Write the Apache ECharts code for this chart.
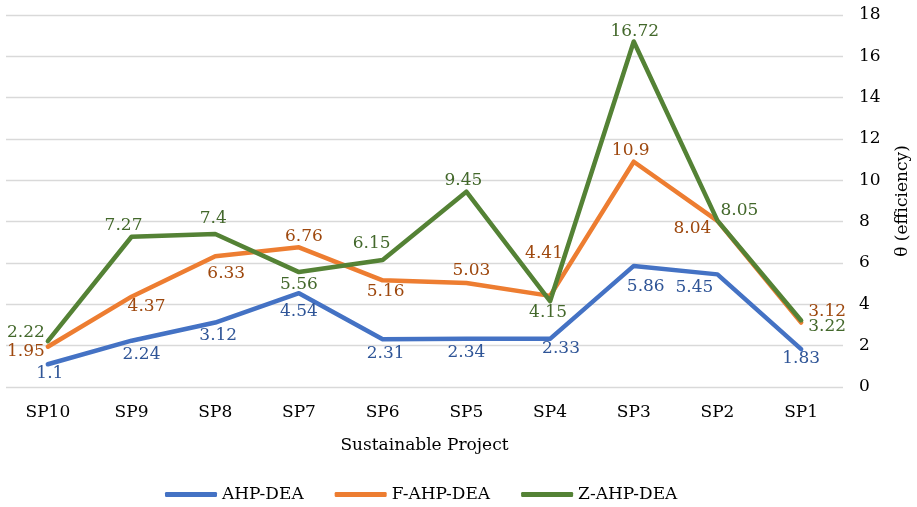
<!DOCTYPE html>
<html>
<head>
<meta charset="utf-8">
<script src="https://cdn.jsdelivr.net/npm/echarts@6/dist/echarts.min.js"></script>
<style>
  html, body { margin: 0; padding: 0; background: #fff; }
  #chart { width: 917px; height: 507px; }
</style>
</head>
<body>
<div id="chart"></div>
<script>
// Categories and efficiency scores per method
const projects = ['SP10', 'SP9', 'SP8', 'SP7', 'SP6', 'SP5', 'SP4', 'SP3', 'SP2', 'SP1'];
const ahpDea  = [1.1, 2.24, 3.12, 4.54, 2.31, 2.34, 2.33, 5.86, 5.45, 1.83];
const fAhpDea = [1.95, 4.37, 6.33, 6.76, 5.16, 5.03, 4.41, 10.9, 8.04, 3.12];
const zAhpDea = [2.22, 7.27, 7.4, 5.56, 6.15, 9.45, 4.15, 16.72, 8.05, 3.22];
const yTicks  = { min: 0, max: 18, step: 2 };

// Per-point label nudges (dx, dy in px from the point) so labels don't collide
const ahpLabelNudge = [[2, 9], [10, 14], [3, 13], [0, 18], [3, 14], [0, 14], [11, 10], [12, 21], [-23, 13], [0, 9]];
const fLabelNudge   = [[-22, 5], [15, 10], [11, 17], [5, -11], [3, 11], [5, -12], [-6, -42], [-3, -11], [-25, 8], [26, -11]];
const zLabelNudge   = [[-22, -9], [-8, -11], [-2, -15], [0, 12], [-11, -16], [-3, -11], [-2, 11], [1, -10], [22, -10], [26, 6]];

const FONT = 'DejaVu Serif';

function buildData(values, nudges, color) {
  return values.map((v, i) => ({
    value: v,
    label: {
      show: true,
      position: 'inside',
      offset: nudges[i],
      color: color,
      fontFamily: FONT,
      fontSize: 17
    }
  }));
}

function lineSeries(name, values, nudges, lineColor, labelColor) {
  return {
    name: name,
    type: 'line',
    // tiny marker hidden under the stroke; it carries the value label
    symbol: 'circle',
    symbolSize: 1,
    showSymbol: true,
    data: buildData(values, nudges, labelColor),
    lineStyle: { width: 4.5, color: lineColor, cap: 'round', join: 'round' },
    itemStyle: { color: lineColor, borderWidth: 0 },
    emphasis: { disabled: true },
    z: 2
  };
}

const chart = echarts.init(document.getElementById('chart'), null, { renderer: 'canvas' });
chart.setOption({
  animation: false,
  backgroundColor: '#ffffff',
  grid: { left: 6, right: 74, top: 15, bottom: 120, containLabel: false, outerBoundsMode: 'none' },
  legend: {
    left: 160,
    top: 481,
    itemWidth: 52,
    itemHeight: 5,
    itemGap: 31,
    icon: 'roundRect',
    textStyle: { fontFamily: FONT, fontSize: 17, color: '#000' },
    data: ['AHP-DEA', 'F-AHP-DEA', 'Z-AHP-DEA']
  },
  xAxis: {
    type: 'category',
    data: projects,
    boundaryGap: true,
    axisLine: { show: false },
    axisTick: { show: false },
    axisLabel: { fontFamily: FONT, fontSize: 17, color: '#000', margin: 17 },
    name: 'Sustainable Project',
    nameLocation: 'middle',
    nameGap: 50,
    nameTextStyle: { fontFamily: FONT, fontSize: 17, color: '#000' }
  },
  yAxis: {
    type: 'value',
    position: 'right',
    min: yTicks.min,
    max: yTicks.max,
    interval: yTicks.step,
    axisLine: { show: false },
    axisTick: { show: false },
    splitLine: { lineStyle: { color: '#D9D9D9', width: 1.3 } },
    axisLabel: { fontFamily: FONT, fontSize: 17, color: '#000', margin: 16 },
    name: 'θ (efficiency)',
    nameLocation: 'middle',
    nameRotate: 90,
    nameGap: 51,
    nameTextStyle: { fontFamily: FONT, fontSize: 17, color: '#000' }
  },
  series: [
    lineSeries('AHP-DEA', ahpDea, ahpLabelNudge, '#4472C4', '#2F5597'),
    lineSeries('F-AHP-DEA', fAhpDea, fLabelNudge, '#ED7D31', '#9E480E'),
    lineSeries('Z-AHP-DEA', zAhpDea, zLabelNudge, '#548235', '#43682B')
  ]
});
</script>
</body>
</html>
